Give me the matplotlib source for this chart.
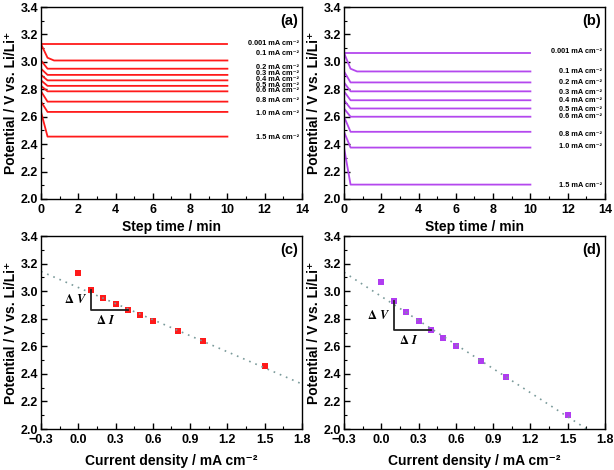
import numpy as np
import matplotlib
matplotlib.use("Agg")
import matplotlib.pyplot as plt
from matplotlib.ticker import MultipleLocator, FormatStrFormatter

plt.rcParams['font.family'] = ['Liberation Sans', 'DejaVu Sans']
plt.rcParams['font.weight'] = 'bold'
plt.rcParams['mathtext.fontset'] = 'stix'

# current densities (mA cm-2) and labels
currents = [0.001, 0.1, 0.2, 0.3, 0.4, 0.5, 0.6, 0.8, 1.0, 1.5]
labels = ['0.001', '0.1', '0.2', '0.3', '0.4', '0.5', '0.6', '0.8', '1.0', '1.5']

# plateau potentials (V) for each sample
volt_a = [3.13, 3.01, 2.95, 2.905, 2.865, 2.825, 2.785, 2.71, 2.635, 2.455]
volt_b = [3.065, 2.93, 2.85, 2.785, 2.72, 2.66, 2.60, 2.49, 2.375, 2.105]

# label heights in the step plots
lab_y_a = [3.137, 3.064, 2.96, 2.912, 2.872, 2.83, 2.79, 2.72, 2.627, 2.45]
lab_y_b = [3.072, 2.933, 2.85, 2.78, 2.72, 2.656, 2.60, 2.467, 2.38, 2.10]

# step time points (min)
t_pts = [0, 0.35, 0.7, 10]

# points for the linear plots (c, d)
dens = [0.0, 0.1, 0.2, 0.3, 0.4, 0.5, 0.6, 0.8, 1.0, 1.5]

red = '#ff1a1a'
purple = '#b448ee'
purple_m = '#b03cf0'

fig = plt.figure(figsize=(6.14, 4.70), dpi=100)
ax_a = fig.add_axes([0.0668, 0.5766, 0.425, 0.4085])
ax_b = fig.add_axes([0.5603, 0.5766, 0.425, 0.4085])
ax_c = fig.add_axes([0.0668, 0.0872, 0.425, 0.4106])
ax_d = fig.add_axes([0.5603, 0.0872, 0.425, 0.4106])


def style(ax, xmaj, xmin, letter):
    ax.set_ylim(2.0, 3.4)
    ax.yaxis.set_major_locator(MultipleLocator(0.2))
    ax.yaxis.set_minor_locator(MultipleLocator(0.1))
    ax.xaxis.set_major_locator(MultipleLocator(xmaj))
    ax.xaxis.set_minor_locator(MultipleLocator(xmin))
    ax.tick_params(which='both', direction='in', top=False, right=False, labelsize=9, pad=2)
    ax.tick_params(axis='x', pad=3.5)
    ax.tick_params(which='major', length=4, width=1)
    ax.tick_params(which='minor', length=2, width=0.8)
    ax.yaxis.set_major_formatter(FormatStrFormatter('%.1f'))
    for lab in ax.get_xticklabels() + ax.get_yticklabels():
        lab.set_fontweight('bold')
    for s in ax.spines.values():
        s.set_linewidth(1.0)
    ax.set_ylabel('Potential / V vs. Li/Li⁺', fontsize=10, fontweight='bold', labelpad=2)
    ax.text(0.985, 0.965, letter, transform=ax.transAxes, ha='right', va='top',
            fontsize=10.5, fontweight='bold')


def steps(ax, volts, lab_y, color, letter):
    prev = volts[0]
    for i, v in enumerate(volts):
        if i == 0:
            ys = [v, v, v, v]
        elif i == 1:
            ys = [prev, v + 0.02, v, v]
        else:
            ys = [prev, v, v, v]
        ax.plot(t_pts, ys, color=color, lw=1.3)
        prev = v
        ax.text(13.85, lab_y[i], labels[i] + ' mA cm⁻²', ha='right', va='center',
                fontsize=5.3, fontweight='bold')
    ax.set_xlim(0, 14)
    style(ax, 2, 1, letter)
    ax.set_xlabel('Step time / min', fontsize=10, fontweight='bold', labelpad=3)


def linear(ax, volts, color, letter, tri_top, tri_bot):
    ax.plot(dens, volts, 's', color=color, ms=4, mec=color, mew=0)
    k, b = np.polyfit(dens[1:], volts[1:], 1)
    xs = np.linspace(-0.3, 1.8, 50)
    ax.plot(xs, k * xs + b, ls=(0, (1, 3)), color='#7a9a9a', lw=1.2)
    ax.plot([0.1, 0.1, 0.4], [tri_top, tri_bot, tri_bot], color='#222222', lw=1.3)
    ax.text(0.07, (tri_top + tri_bot) / 2, r'$\Delta\ V$', ha='right', va='center',
            fontsize=9)
    ax.text(0.22, tri_bot - 0.03, r'$\Delta\ I$', ha='center', va='top',
            fontsize=9)
    ax.set_xlim(-0.3, 1.8)
    style(ax, 0.3, 0.15, letter)
    ax.set_xlabel('Current density / mA cm⁻²', fontsize=10, fontweight='bold', labelpad=6)


steps(ax_a, volt_a, lab_y_a, red, '(a)')
steps(ax_b, volt_b, lab_y_b, purple, '(b)')
linear(ax_c, volt_a, red, '(c)', volt_a[1], volt_a[4])
linear(ax_d, volt_b, purple_m, '(d)', volt_b[1], volt_b[4])

fig.savefig('out.png', dpi=100)
